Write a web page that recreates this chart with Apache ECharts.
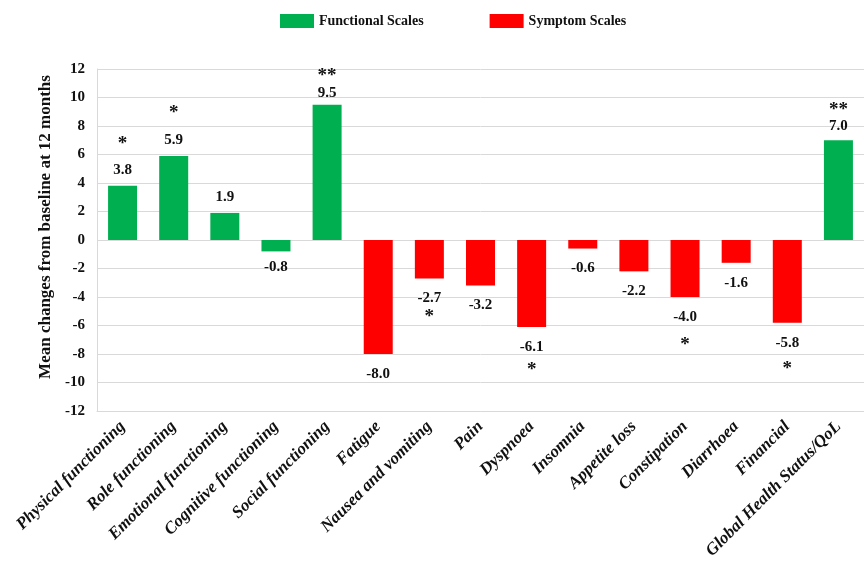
<!DOCTYPE html>
<html>
<head>
<meta charset="utf-8">
<script src="https://cdn.jsdelivr.net/npm/echarts@6/dist/echarts.min.js"></script>
<style>html,body{margin:0;padding:0;background:#fff}#c{width:864px;height:564px}</style>
</head>
<body>
<div id="c"></div>
<script>
const categories = ['Physical functioning','Role functioning','Emotional functioning','Cognitive functioning','Social functioning','Fatigue','Nausea and vomiting','Pain','Dyspnoea','Insomnia','Appetite loss','Constipation','Diarrhoea','Financial','Global Health Status/QoL'];
const values = [3.8, 5.9, 1.9, -0.8, 9.5, -8.0, -2.7, -3.2, -6.1, -0.6, -2.2, -4.0, -1.6, -5.8, 7.0];
const significance = ['*','*','','','**','','*','','*','','','*','','*','**'];
const scaleType = ['F','F','F','F','F','S','S','S','S','S','S','S','S','S','F'];
const seriesNames = {F: 'Functional Scales', S: 'Symptom Scales'};
const yTicks = {min: -12, max: 12, interval: 2};

// styling
const FONT = 'Liberation Serif';
const colors = {F: '#00B050', S: '#FF0000'};
const starLineHeight = [26, 27, 0, 0, 17, 0, 19, 0, 24, 0, 0, 29, 0, 27, 17];
const labelDistance = [7, 7, 7, 7, 3, 11, 11, 11, 11, 11, 11, 11, 11, 11, 5];

function makeData(type) {
  return values.map((v, i) => {
    if (scaleType[i] !== type) return '-';
    const txt = v.toFixed(1);
    const s = significance[i];
    let formatter;
    const rich = {
      v: {fontFamily: FONT, fontSize: 15, fontWeight: 'bold', color: '#111', lineHeight: 18},
      s: {fontFamily: FONT, fontSize: 19, fontWeight: 'bold', color: '#111', lineHeight: starLineHeight[i] || 20, verticalAlign: v >= 0 ? 'top' : 'bottom'}
    };
    if (v >= 0) formatter = s ? '{s|' + s + '}\n{v|' + txt + '}' : '{v|' + txt + '}';
    else formatter = s ? '{v|' + txt + '}\n{s|' + s + '}' : '{v|' + txt + '}';
    return {
      value: v,
      label: {show: true, position: v >= 0 ? 'top' : 'bottom', distance: labelDistance[i], formatter, rich}
    };
  });
}

const chart = echarts.init(document.getElementById('c'));
chart.setOption({
  animation: false,
  legend: {
    top: 9, left: 275, itemWidth: 34, itemHeight: 14, itemGap: 66,
    icon: 'rect',
    textStyle: {fontFamily: FONT, fontSize: 14, fontWeight: 'bold', color: '#111'},
    data: [seriesNames.F, seriesNames.S]
  },
  grid: {left: 97, top: 69, width: 780, height: 342, containLabel: false},
  xAxis: {
    type: 'category', data: categories,
    axisLine: {onZero: false, lineStyle: {color: '#d9d9d9'}},
    axisTick: {show: false},
    axisLabel: {interval: 0, rotate: 45, margin: 13, fontFamily: FONT, fontStyle: 'italic', fontWeight: 'bold', fontSize: 17, color: '#111'}
  },
  yAxis: {
    type: 'value', min: yTicks.min, max: yTicks.max, interval: yTicks.interval,
    name: 'Mean changes from baseline at 12 months', nameLocation: 'middle', nameGap: 40,
    nameTextStyle: {fontFamily: FONT, fontSize: 17, fontWeight: 'bold', color: '#111', padding: [0, 0, 0, 26]},
    axisLine: {show: true, lineStyle: {color: '#d9d9d9'}},
    axisTick: {show: false},
    axisLabel: {margin: 12, fontFamily: FONT, fontSize: 15, fontWeight: 'bold', color: '#111'},
    splitLine: {lineStyle: {color: '#d9d9d9'}}
  },
  series: [
    {name: seriesNames.F, type: 'bar', barWidth: 29, barGap: '-100%', itemStyle: {color: colors.F}, data: makeData('F')},
    {name: seriesNames.S, type: 'bar', barWidth: 29, barGap: '-100%', itemStyle: {color: colors.S}, data: makeData('S')}
  ]
});
</script>
</body>
</html>
